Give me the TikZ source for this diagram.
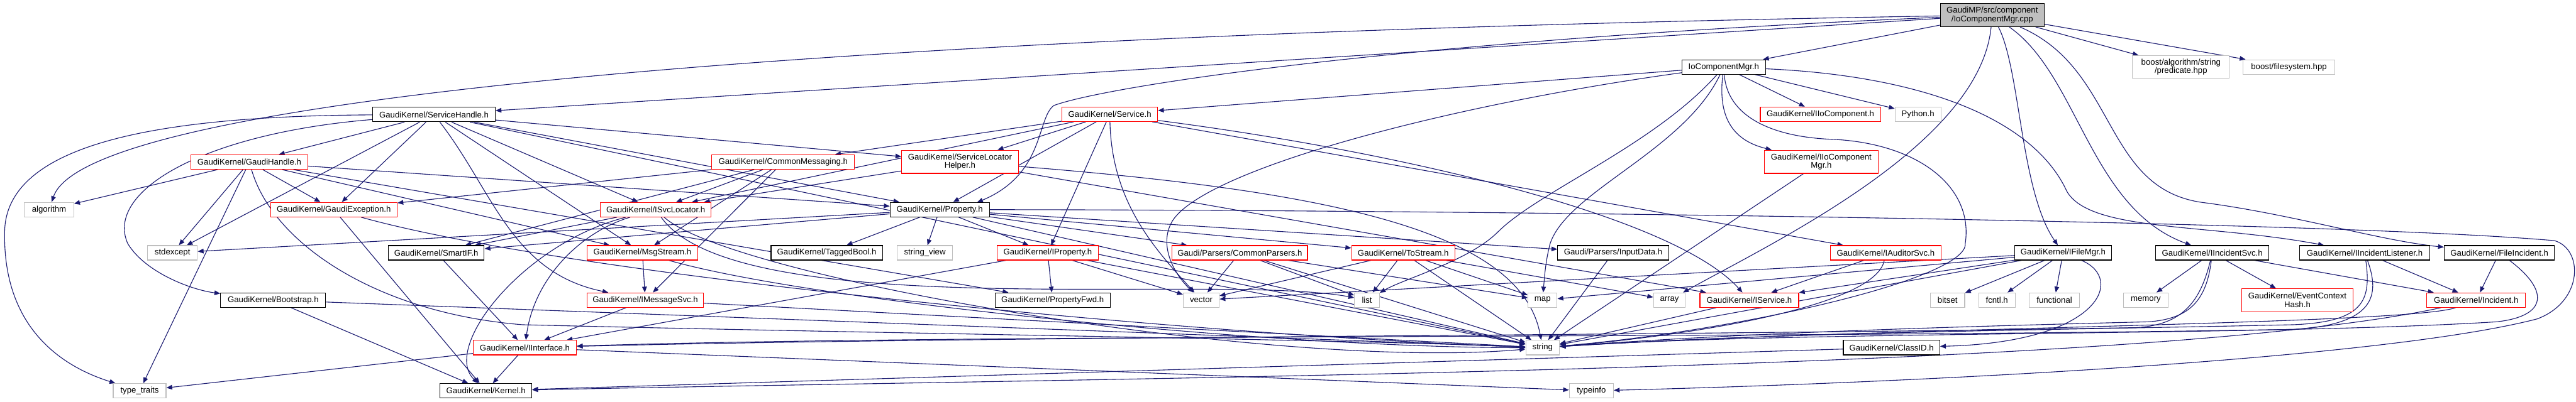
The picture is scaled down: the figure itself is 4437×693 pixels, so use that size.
\documentclass[tikz,border=0pt]{standalone}
\usepackage{fontspec}
\setmainfont{Liberation Sans}
\usetikzlibrary{arrows.meta}
\pgfdeclarelayer{bg}
\pgfdeclarelayer{edges}
\pgfsetlayers{bg,edges,main}
\definecolor{edgec}{HTML}{191970}
\definecolor{grayb}{HTML}{BFBFBF}
\definecolor{redb}{HTML}{FF0000}
\tikzset{
 box/.style={draw, fill=white, line width=1.2pt, inner sep=0pt, minimum height=25pt, font=\fontsize{14.3}{15}\selectfont, align=center},
 blk/.style={box, draw=black},
 redn/.style={box, draw=redb},
 gry/.style={box, draw=grayb},
 edg/.style={draw=edgec, line width=1.2pt, -{Triangle[length=10pt,width=8pt]}},
}
\begin{document}
\begin{tikzpicture}[x=1pt,y=-1pt]
\begin{pgfonlayer}{bg}\fill[white] (0,0) rectangle (4437,693);\end{pgfonlayer}
\useasboundingbox (0,0) rectangle (4437,693);

\node[box, draw=black, fill=grayb, minimum width=179pt, minimum height=40pt] (root) at (3431.5,26) {GaudiMP/src/component\\/IoComponentMgr.cpp};
\node[blk, minimum width=144pt] (iocmgr) at (2969,115.5) {IoComponentMgr.h};
\node[gry, minimum width=167pt, minimum height=39pt] (pred) at (3756.5,115.5) {boost/algorithm/string\\/predicate.hpp};
\node[gry, minimum width=159pt] (fs) at (3942.5,115.5) {boost/filesystem.hpp};
\node[blk, minimum width=211pt] (sh) at (747.5,197.5) {GaudiKernel/ServiceHandle.h};
\node[redn, minimum width=165pt] (sv) at (1911.5,197) {GaudiKernel/Service.h};
\node[redn, minimum width=207pt] (iic) at (3135.5,197) {GaudiKernel/IIoComponent.h};
\node[gry, minimum width=79pt] (py) at (3303.5,197) {Python.h};
\node[redn, minimum width=201pt] (gh) at (429.5,279.5) {GaudiKernel/GaudiHandle.h};
\node[redn, minimum width=246pt] (cm) at (1349,279.5) {GaudiKernel/CommonMessaging.h};
\node[redn, minimum width=201pt, minimum height=40pt] (slh) at (1653.5,279) {GaudiKernel/ServiceLocator\\Helper.h};
\node[redn, minimum width=196pt, minimum height=40pt] (iicm) at (3137,279) {GaudiKernel/IIoComponent\\Mgr.h};
\node[gry, minimum width=85pt] (alg) at (84.5,361.5) {algorithm};
\node[redn, minimum width=218pt] (ge) at (575,361.5) {GaudiKernel/GaudiException.h};
\node[redn, minimum width=191pt] (isl) at (1129.5,361.5) {GaudiKernel/ISvcLocator.h};
\node[blk, minimum width=171pt] (pr) at (1618.5,361.5) {GaudiKernel/Property.h};
\node[gry, minimum width=86pt] (stdx) at (297,436) {stdexcept};
\node[blk, minimum width=165pt] (sif) at (751.5,436) {GaudiKernel/SmartIF.h};
\node[redn, minimum width=191pt] (ms) at (1106.5,436) {GaudiKernel/MsgStream.h};
\node[blk, minimum width=192pt] (tb) at (1424,436) {GaudiKernel/TaggedBool.h};
\node[gry, minimum width=96pt] (sview) at (1593,436) {string\_view};
\node[redn, minimum width=175pt] (ip) at (1804.5,436) {GaudiKernel/IProperty.h};
\node[redn, minimum width=233pt] (cp) at (2135.5,436) {Gaudi/Parsers/CommonParsers.h};
\node[redn, minimum width=178pt] (ts) at (2417,436) {GaudiKernel/ToStream.h};
\node[blk, minimum width=191pt] (ind) at (2778.5,436) {Gaudi/Parsers/InputData.h};
\node[redn, minimum width=190pt] (ias) at (3248,436) {GaudiKernel/IAuditorSvc.h};
\node[blk, minimum width=167pt] (ifm) at (3553.5,436) {GaudiKernel/IFileMgr.h};
\node[blk, minimum width=195pt] (iis) at (3810.5,436) {GaudiKernel/IIncidentSvc.h};
\node[blk, minimum width=224pt] (iil) at (4073,436) {GaudiKernel/IIncidentListener.h};
\node[blk, minimum width=190pt] (fi) at (4305,436) {GaudiKernel/FileIncident.h};
\node[blk, minimum width=181pt] (bs) at (470.5,517.5) {GaudiKernel/Bootstrap.h};
\node[redn, minimum width=201pt] (ims) at (1111.5,517.5) {GaudiKernel/IMessageSvc.h};
\node[blk, minimum width=198pt] (pfwd) at (1813,517.5) {GaudiKernel/PropertyFwd.h};
\node[gry, minimum width=62pt] (vec) at (2069,517.5) {vector};
\node[gry, minimum width=43pt] (lst) at (2354.5,517.5) {list};
\node[gry, minimum width=50pt] (map) at (2657,517.5) {map};
\node[gry, minimum width=55pt] (arr) at (2875.5,517.5) {array};
\node[redn, minimum width=170pt] (is) at (3013,517.5) {GaudiKernel/IService.h};
\node[gry, minimum width=59pt] (bits) at (3354.5,517.5) {bitset};
\node[gry, minimum width=63pt] (fcn) at (3439.5,517.5) {fcntl.h};
\node[gry, minimum width=87pt] (func) at (3538.5,517.5) {functional};
\node[gry, minimum width=76pt] (mem) at (3696,517.5) {memory};
\node[redn, minimum width=192pt, minimum height=40pt] (ech) at (3957,518) {GaudiKernel/EventContext\\Hash.h};
\node[redn, minimum width=170pt] (inc) at (4265,517.5) {GaudiKernel/Incident.h};
\node[redn, minimum width=178pt] (ii) at (904,599.5) {GaudiKernel/IInterface.h};
\node[gry, minimum width=58pt] (str) at (2657,599.5) {string};
\node[blk, minimum width=166pt] (cid) at (3258,599.5) {GaudiKernel/ClassID.h};
\node[gry, minimum width=91pt] (tt) at (240.5,674) {type\_traits};
\node[blk, minimum width=158pt] (ker) at (837,674) {GaudiKernel/Kernel.h};
\node[gry, minimum width=76pt] (ti) at (2741,674) {typeinfo};

\begin{pgfonlayer}{edges}
\foreach \a/\b in {root/iocmgr, root/sh, root/pred, root/fs,
 iocmgr/sv, iocmgr/py, iocmgr/iic,
 sh/ge, sh/gh, sh/isl, sh/ms, sh/pr, sh/slh, sh/stdx, sh/str,
 gh/ge, gh/alg, gh/tt, gh/stdx, gh/ms, gh/pr, gh/pfwd,
 cm/ge, cm/sif, cm/isl, cm/ms, cm/ims,
 sv/cm, sv/slh, sv/isl, sv/pr, sv/ip, sv/ias,
 slh/isl, slh/is, isl/sif,
 ms/ims, ims/ii, ims/str, sif/ii,
 ge/ker, bs/ker, bs/str,
 ii/ker, ii/tt, ii/ti,
 ip/pfwd, ip/vec, ip/ii, ip/str,
 pr/tb, pr/sview, pr/ip, pr/cp, pr/ts, pr/ind, pr/str, pr/sif, pr/stdx,
 cp/vec, cp/lst, cp/map, cp/str,
 ts/vec, ts/lst, ts/map, ts/arr, ts/str,
 ind/str, ias/is, is/str,
 ifm/bits, ifm/fcn, ifm/func, ifm/is, ifm/map, ifm/str, ifm/vec,
 iis/mem, iis/ech, iis/inc, iil/inc, fi/inc,
 cid/ker, iicm/str}
 \draw[edg] (\a) -- (\b);

\coordinate (prtop) at (1683,349);
\draw[edg] (root) .. controls (1400,60) and (150,170) .. (alg);
\draw[edg] (root) .. controls (2400,70) and (1900,150) .. (1815,182) .. controls (1785,205) and (1800,300) .. (prtop);
\draw[edg] (root) .. controls (3480,120) and (3480,330) .. (ifm);
\draw[edg] (root) .. controls (3410,250) and (3050,420) .. (arr);
\draw[edg] (root) .. controls (3580,130) and (3600,360) .. (iis);
\draw[edg] (root) .. controls (3650,120) and (3620,330) .. (3800,350) .. controls (3950,370) and (4100,415) .. (fi);
\draw[edg] (iocmgr) .. controls (2975,200) and (3050,235) .. (3150,240) .. controls (3300,245) and (3400,320) .. (3385,420) .. controls (3390,480) and (3000,570) .. (str);
\draw[edg] (iocmgr) .. controls (3300,130) and (3500,200) .. (3560,330) .. controls (3600,400) and (3800,385) .. (iil);
\draw[edg] (iocmgr) .. controls (2500,180) and (2080,290) .. (2020,380) .. controls (1995,420) and (2020,470) .. (vec);
\draw[edg] (iocmgr) .. controls (2850,250) and (2650,330) .. (2580,400) .. controls (2530,450) and (2420,480) .. (lst);
\draw[edg] (iocmgr) .. controls (2900,260) and (2700,330) .. (2670,420) .. controls (2662,450) and (2660,480) .. (map);
\draw[edg] (iocmgr) .. controls (2960,190) and (2975,240) .. (iicm);
\draw[edg] (sh) .. controls (350,230) and (180,330) .. (220,420) .. controls (250,470) and (330,500) .. (bs);
\draw[edg] (sh) .. controls (300,200) and (10,240) .. (8,400) .. controls (5,560) and (100,630) .. (tt);
\draw[edg] (sh) .. controls (850,330) and (880,470) .. (ims);
\draw[edg] (gh) .. controls (470,420) and (650,540) .. (900,560) .. controls (1500,575) and (2300,585) .. (str);
\draw[edg] (sv) .. controls (1915,350) and (1990,430) .. (vec);
\draw[edg] (sv) .. controls (2400,260) and (2880,370) .. (is);
\draw[edg] (slh) .. controls (2300,330) and (2620,400) .. (str);
\draw[edg] (isl) .. controls (1000,400) and (920,480) .. (ii);
\draw[edg] (isl) .. controls (900,420) and (760,600) .. (ker);
\draw[edg] (isl) .. controls (1260,480) and (2200,640) .. (str);
\draw[edg] (isl) .. controls (1270,560) and (2100,470) .. (lst);
\draw[edg] (ge) .. controls (1000,480) and (2100,580) .. (str);
\draw[edg] (ms) .. controls (1400,520) and (2200,600) .. (str);
\draw[edg] (pr) .. controls (2500,362) and (4000,380) .. (4400,415) .. controls (4450,430) and (4450,520) .. (4370,550) .. controls (4100,620) and (3300,660) .. (ti);
\draw[edg] (ifm) .. controls (3660,480) and (3620,590) .. (cid);
\draw[edg] (iis) .. controls (3790,520) and (3760,560) .. (3680,565) .. controls (2800,580) and (1700,580) .. (ii);
\draw[edg] (iis) .. controls (3800,520) and (3770,550) .. (3700,555) .. controls (3300,565) and (3000,575) .. (str);
\draw[edg] (iil) .. controls (4100,510) and (4090,560) .. (3950,568) .. controls (3000,585) and (1700,575) .. (ii);
\draw[edg] (iil) .. controls (4085,520) and (4070,555) .. (3950,560) .. controls (3500,570) and (3100,572) .. (str);
\draw[edg] (fi) .. controls (4390,500) and (4390,545) .. (4300,555) .. controls (3900,580) and (3100,570) .. (str);
\draw[edg] (inc) .. controls (4150,560) and (3200,565) .. (str);
\draw[edg] (inc) .. controls (3700,640) and (2000,650) .. (ker);
\draw[edg] (ias) .. controls (3230,530) and (2900,580) .. (str);
\end{pgfonlayer}
\end{tikzpicture}
\end{document}
